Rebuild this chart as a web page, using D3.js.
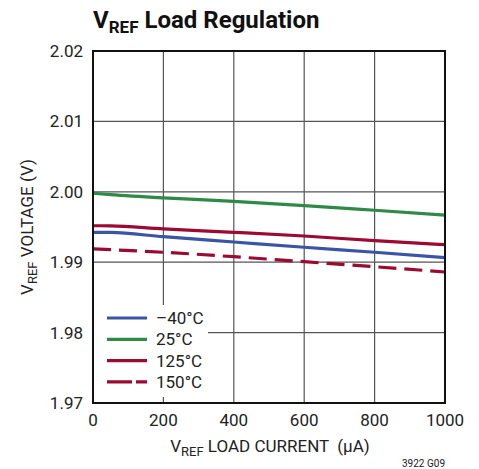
<!DOCTYPE html>
<html>
<head>
<meta charset="utf-8">
<script src="https://cdn.jsdelivr.net/npm/d3@7"></script>
<style>
  body { margin: 0; background: #fff; }
  svg { font-family: Roboto, "Liberation Sans", sans-serif; }
</style>
</head>
<body>
<svg width="479" height="469"></svg>
<script>
// load current (uA)
var current = [0, 50, 200, 400, 600, 800, 1000];
var vMinus40 = [1.99425, 1.99423, 1.99362, 1.99287, 1.99212, 1.99141, 1.99064];
var v25 = [1.99979, 1.99960, 1.99914, 1.99865, 1.99805, 1.99738, 1.99670];
var v125 = [1.99518, 1.99516, 1.99472, 1.99425, 1.99372, 1.99306, 1.99249];
var v150 = [1.99188, 1.99178, 1.99141, 1.99078, 1.99007, 1.98936, 1.98861];
var xTicks = [0, 200, 400, 600, 800, 1000];
var yTicks = [1.97, 1.98, 1.99, 2.00, 2.01, 2.02];
var seriesNames = ["\u201340\u00b0C", "25\u00b0C", "125\u00b0C", "150\u00b0C"];

var series = [
  { name: seriesNames[0], values: vMinus40, color: "#3a55a4", dash: null },
  { name: seriesNames[1], values: v25, color: "#2f8a48", dash: null },
  { name: seriesNames[2], values: v125, color: "#9a0a33", dash: null },
  { name: seriesNames[3], values: v150, color: "#9a0a33", dash: "18,8" }
];

var svg = d3.select("svg");
var marginLeft = 93, marginTop = 51, width = 352, height = 352;

var xScale = d3.scaleLinear().domain([0, 1000]).range([0, width]),
  yScale = d3.scaleLinear().domain([1.97, 2.02]).range([height, 0]);

var g = svg.append("g").attr("transform", "translate(" + marginLeft + "," + marginTop + ")");

// grid
g.append("g").selectAll("line").data(xTicks.slice(1, -1)).enter().append("line")
  .attr("x1", function (d) { return xScale(d); })
  .attr("x2", function (d) { return xScale(d); })
  .attr("y1", 0).attr("y2", height)
  .attr("stroke", "#555").attr("stroke-width", 1.2);
g.append("g").selectAll("line").data(yTicks.slice(1, -1)).enter().append("line")
  .attr("y1", function (d) { return yScale(d); })
  .attr("y2", function (d) { return yScale(d); })
  .attr("x1", 0).attr("x2", width)
  .attr("stroke", "#555").attr("stroke-width", 1.2);

// lines
var line = d3.line()
  .x(function (d, i) { return xScale(current[i]); })
  .y(function (d) { return yScale(d); })
  .curve(d3.curveMonotoneX);

series.forEach(function (s) {
  g.append("path")
    .datum(s.values)
    .attr("fill", "none")
    .attr("stroke", s.color)
    .attr("stroke-width", 3.2)
    .attr("stroke-dasharray", s.dash)
    .attr("d", line);
});

// legend
var lg = g.append("g").attr("transform", "translate(0," + 254 + ")");
lg.append("rect").attr("x", 1).attr("y", 0).attr("width", 114).attr("height", 92).attr("fill", "#fff");
series.forEach(function (s, i) {
  var y = 13 + i * 21.3;
  lg.append("line")
    .attr("x1", 14).attr("x2", 54).attr("y1", y).attr("y2", y)
    .attr("stroke", s.color).attr("stroke-width", 3.2)
    .attr("stroke-dasharray", s.dash ? "25,4,12,100" : null);
  lg.append("text")
    .attr("x", 63).attr("y", y + 6)
    .style("font-size", "17px")
    .attr("fill", "#222")
    .text(s.name);
});

// frame
g.append("rect").attr("width", width).attr("height", height)
  .attr("fill", "none").attr("stroke", "#111").attr("stroke-width", 2);

// tick labels
g.append("g").selectAll("text").data(yTicks).enter().append("text")
  .attr("x", -10).attr("y", function (d) { return yScale(d) + 6; })
  .attr("text-anchor", "end")
  .style("font-size", "17px").attr("fill", "#222")
  .text(function (d) { return d3.format(".2f")(d); });

g.append("g").selectAll("text").data(xTicks).enter().append("text")
  .attr("x", function (d) { return xScale(d); }).attr("y", height + 23)
  .attr("text-anchor", "middle")
  .style("font-size", "17px").attr("fill", "#222")
  .text(function (d) { return d; });

// title
var title = svg.append("text").attr("x", 93).attr("y", 28)
  .style("font-size", "24px").style("font-weight", "bold").attr("fill", "#111");
title.append("tspan").text("V");
title.append("tspan").attr("dy", 5).style("font-size", "17px").text("REF");
title.append("tspan").attr("dy", -5).text(" Load Regulation");

// x label
var xl = svg.append("text").attr("x", 270).attr("y", 452).attr("text-anchor", "middle")
  .style("font-size", "17px").attr("fill", "#222");
xl.append("tspan").text("V");
xl.append("tspan").attr("dy", 4).style("font-size", "13px").text("REF");
xl.append("tspan").attr("dy", -4).text(" LOAD CURRENT \u00a0(\u00b5A)");

// y label
var yl = svg.append("text").attr("text-anchor", "middle")
  .attr("transform", "translate(33,227)rotate(-90)")
  .style("font-size", "17px").attr("fill", "#222");
yl.append("tspan").text("V");
yl.append("tspan").attr("dy", 4).style("font-size", "13px").text("REF");
yl.append("tspan").attr("dy", -4).text(" VOLTAGE (V)");

svg.append("text").attr("x", 445).attr("y", 467).attr("text-anchor", "end")
  .style("font-size", "10px").attr("fill", "#222").text("3922 G09");
</script>
</body>
</html>
